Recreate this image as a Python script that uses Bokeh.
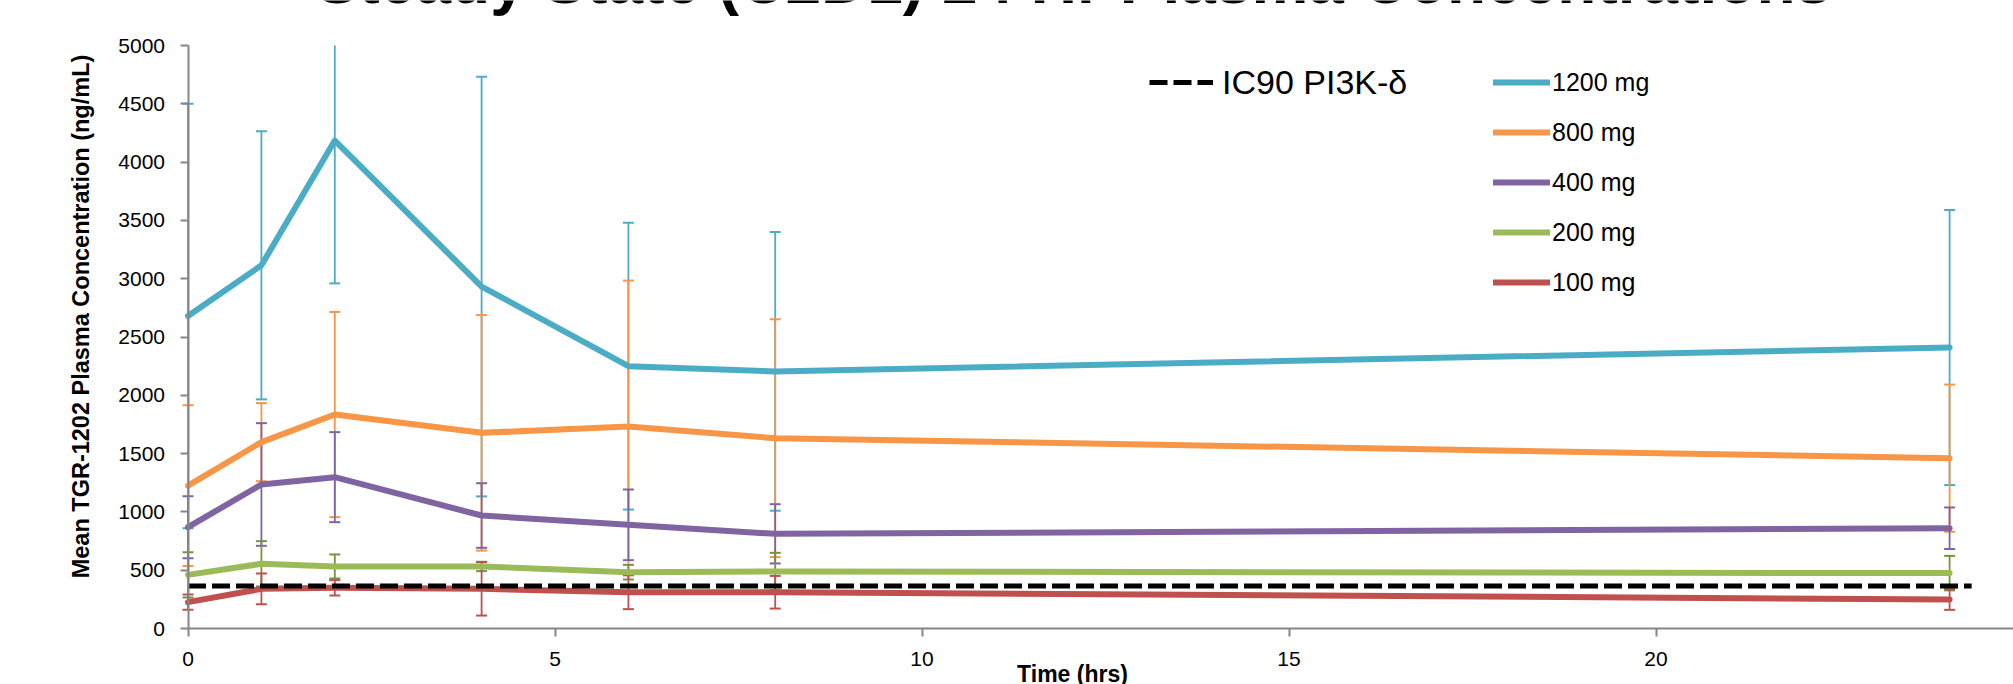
import math
from bokeh.plotting import figure
from bokeh.models import Legend, LegendItem, Label, FixedTicker, Range1d, ColumnDataSource
from bokeh.embed import file_html
from bokeh.resources import INLINE

# ---------------- data ----------------
times = [0, 1, 2, 4, 6, 8, 24]
series_names = ["1200 mg", "800 mg", "400 mg", "200 mg", "100 mg"]
mean_1200 = [2680, 3115, 4185, 2933, 2250, 2205, 2410]
sd_1200 = [1820, 1150, 1225, 1800, 1230, 1195, 1180]
mean_800 = [1225, 1598, 1835, 1678, 1732, 1632, 1461]
sd_800 = [690, 335, 880, 1010, 1252, 1020, 631]
mean_400 = [869, 1235, 1298, 969, 889, 812, 860]
sd_400 = [266, 526, 386, 277, 303, 254, 178]
mean_200 = [460, 555, 532, 532, 483, 489, 475]
sd_200 = [195, 194, 103, 40, 63, 160, 148]
mean_100 = [226, 340, 349, 340, 311, 311, 249]
sd_100 = [66, 132, 66, 229, 145, 140, 89]
ic90_times = [0, 24.3]
ic90_values = [365, 365]
ic90_name = "IC90 PI3K-δ"
x_ticks = [0, 5, 10, 15, 20, 25]
y_ticks = [0, 500, 1000, 1500, 2000, 2500, 3000, 3500, 4000, 4500, 5000]
y_axis_max = 5000
x_axis_max = 25
title_text = "Steady State (C2D1) 24 Hr Plasma Concentrations"
x_title = "Time (hrs)"
y_title = "Mean TGR-1202 Plasma Concentration (ng/mL)"

means = [mean_1200, mean_800, mean_400, mean_200, mean_100]
sds = [sd_1200, sd_800, sd_400, sd_200, sd_100]
line_colors = ["#4BACC6", "#F79646", "#8064A2", "#9BBB59", "#C0504D"]
bar_colors = ["#4BACC6", "#F79646", "#8064A2", "#77933C", "#C0504D"]

FONT = "Liberation Sans"

# ---------------- layout geometry (pixels) ----------------
W, H = 2013, 684
X0_PX, PX_PER_HR = 187.5, 73.4        # x=0 position and scale
Y0_PX, PX_PER_UNIT = 628.0, 0.1166    # y=0 position and scale

def dx(px):
    return (px - X0_PX) / PX_PER_HR

def dy(px):
    return (Y0_PX - px) / PX_PER_UNIT

p = figure(width=W, height=H, output_backend="svg", toolbar_location=None,
           x_range=Range1d(dx(0), dx(W)), y_range=Range1d(dy(H), dy(0)),
           min_border_left=0, min_border_right=0, min_border_top=0,
           min_border_bottom=0)
p.xgrid.visible = False
p.ygrid.visible = False
p.outline_line_color = None
p.background_fill_color = "white"
p.border_fill_color = "white"

for ax in (p.xaxis[0], p.yaxis[0]):
    ax.fixed_location = 0
    ax.axis_line_color = "#868686"
    ax.axis_line_width = 2
    ax.major_tick_line_color = "#868686"
    ax.major_tick_line_width = 2
    ax.major_tick_out = 8
    ax.major_tick_in = 0
    ax.minor_tick_line_color = None
    ax.major_label_text_font = FONT
    ax.major_label_text_font_size = "21px"
    ax.major_label_text_color = "black"
    ax.major_label_standoff = 15

p.xaxis.ticker = FixedTicker(ticks=x_ticks)
p.yaxis.ticker = FixedTicker(ticks=y_ticks)
p.xaxis.bounds = (0, x_axis_max)
p.yaxis.bounds = (0, y_axis_max)

# error bars (clipped at the top of the value axis, as in the original)
for m, s, c in zip(means, sds, bar_colors):
    lo = [a - b for a, b in zip(m, s)]
    hi_raw = [a + b for a, b in zip(m, s)]
    hi = [min(v, y_axis_max) for v in hi_raw]
    src = ColumnDataSource(dict(t=times, lo=lo, hi=hi))
    p.segment(x0="t", y0="lo", x1="t", y1="hi", source=src, line_color=c, line_width=1.8)
    p.scatter(x="t", y="lo", source=src, marker="dash", size=11, line_color=c, line_width=2)
    cap_t = [t for t, v in zip(times, hi_raw) if v <= y_axis_max]
    cap_v = [v for v in hi_raw if v <= y_axis_max]
    p.scatter(x=cap_t, y=cap_v, marker="dash", size=11, line_color=c, line_width=2)

# mean lines
line_renderers = []
for m, c in zip(means, line_colors):
    r = p.line(times, m, line_color=c, line_width=6, line_join="round", line_cap="round")
    line_renderers.append(r)

r_ic = p.line(ic90_times, ic90_values, line_color="black", line_width=5, line_dash="18 6")

# legends
leg1 = Legend(items=[LegendItem(label=ic90_name, renderers=[r_ic])],
              location=(1149, 582), orientation="vertical",
              glyph_width=64, glyph_height=40, label_height=40, label_standoff=9,
              label_text_font=FONT, label_text_font_size="34px", label_text_color="black",
              padding=0, margin=0, spacing=0, border_line_color=None,
              background_fill_alpha=0)
leg2 = Legend(items=[LegendItem(label=n, renderers=[r]) for n, r in zip(series_names, line_renderers)],
              location=(1493, 382), orientation="vertical",
              glyph_width=57, glyph_height=40, label_height=40, label_standoff=2,
              label_text_font=FONT, label_text_font_size="25px", label_text_color="black",
              padding=0, margin=0, spacing=10, border_line_color=None,
              background_fill_alpha=0)
p.add_layout(leg1)
p.add_layout(leg2)

# titles
p.add_layout(Label(x=dx(1073), y=dy(-20), text=title_text, text_font=FONT,
                   text_font_size="64px", text_font_style="bold", text_align="center",
                   text_baseline="alphabetic", text_color="black"))
p.add_layout(Label(x=dx(1072), y=dy(673), text=x_title, text_font=FONT,
                   text_font_size="23px", text_font_style="bold", text_align="center",
                   text_baseline="alphabetic", text_color="black"))
p.add_layout(Label(x=dx(80), y=dy(316), text=y_title, text_font=FONT, angle=math.pi / 2,
                   text_font_size="23.5px", text_font_style="bold", text_align="center",
                   text_baseline="middle", text_color="black"))

open("out.html", "w").write(file_html(p, INLINE))
